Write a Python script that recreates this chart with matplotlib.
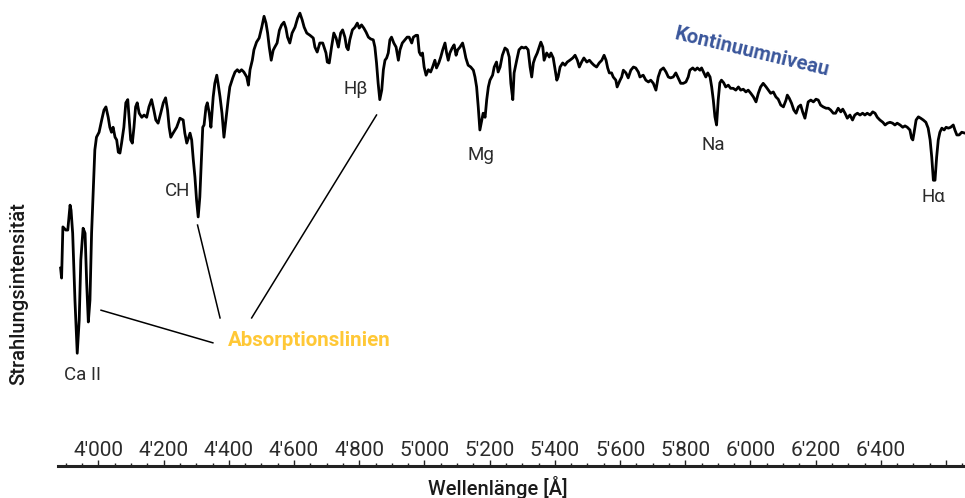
import matplotlib
matplotlib.use("Agg")
import matplotlib.pyplot as plt
from matplotlib.ticker import MultipleLocator, FixedLocator

plt.rcParams['font.family'] = ['Roboto', 'DejaVu Sans']

# Wavelength [Å] and relative radiation intensity
wavelength = [
    3884, 3887, 3891, 3900, 3906, 3913, 3916, 3921, 3928, 3935, 3941, 3946, 3953, 3959, 3964, 3969,
    3974, 3979, 3984, 3989, 3994, 4002, 4010, 4017, 4023, 4030, 4035, 4040, 4045, 4051, 4056, 4061,
    4066, 4071, 4078, 4084, 4090, 4094, 4099, 4104, 4109, 4114, 4119, 4125, 4133, 4140, 4148, 4155,
    4163, 4170, 4176, 4183, 4191, 4199, 4206, 4212, 4217, 4222, 4229, 4240, 4250, 4260, 4265, 4271,
    4281, 4286, 4291, 4296, 4301, 4306, 4311, 4317, 4320, 4324, 4330, 4334, 4340, 4345, 4352, 4357,
    4363, 4367, 4373, 4379, 4385, 4391, 4398, 4403, 4412, 4419, 4426, 4432, 4439, 4446, 4455, 4460,
    4465, 4472, 4477, 4485, 4493, 4501, 4508, 4514, 4519, 4524, 4530, 4536, 4541, 4548, 4555, 4562,
    4569, 4575, 4580, 4587, 4594, 4603, 4611, 4618, 4625, 4631, 4639, 4649, 4659, 4664, 4671, 4679,
    4688, 4698, 4702, 4708, 4715, 4722, 4729, 4736, 4743, 4749, 4756, 4761, 4766, 4771, 4779, 4787,
    4794, 4800, 4807, 4814, 4821, 4828, 4835, 4843, 4848, 4853, 4858, 4863, 4869, 4874, 4879, 4884,
    4889, 4894, 4899, 4906, 4913, 4920, 4925, 4932, 4940, 4947, 4953, 4961, 4966, 4974, 4979, 4984,
    4989, 4994, 4999, 5005, 5012, 5019, 5025, 5032, 5037, 5044, 5050, 5056, 5063, 5068, 5073, 5078,
    5085, 5091, 5097, 5102, 5109, 5117, 5122, 5127, 5134, 5142, 5150, 5155, 5160, 5165, 5170, 5176,
    5180, 5186, 5191, 5196, 5201, 5209, 5214, 5221, 5226, 5232, 5239, 5247, 5254, 5260, 5265, 5271,
    5275, 5283, 5290, 5298, 5305, 5311, 5318, 5324, 5329, 5334, 5339, 5346, 5352, 5357, 5363, 5367,
    5375, 5383, 5388, 5395, 5400, 5406, 5410, 5416, 5424, 5431, 5438, 5446, 5455, 5462, 5469, 5475,
    5482, 5489, 5498, 5506, 5513, 5520, 5528, 5536, 5544, 5551, 5557, 5562, 5567, 5574, 5579, 5587,
    5591, 5600, 5605, 5610, 5618, 5625, 5633, 5641, 5648, 5656, 5661, 5671, 5679, 5687, 5694, 5702,
    5710, 5717, 5724, 5733, 5741, 5748, 5755, 5763, 5771, 5778, 5786, 5794, 5802, 5809, 5814, 5823,
    5830, 5837, 5845, 5850, 5857, 5863, 5869, 5876, 5881, 5886, 5891, 5896, 5901, 5906, 5911, 5918,
    5924, 5932, 5939, 5947, 5955, 5963, 5970, 5978, 5986, 5993, 6001, 6009, 6017, 6024, 6031, 6039,
    6048, 6055, 6062, 6070, 6078, 6085, 6093, 6101, 6109, 6113, 6119, 6126, 6133, 6140, 6147, 6154,
    6160, 6167, 6172, 6177, 6185, 6193, 6201, 6208, 6215, 6223, 6232, 6239, 6246, 6254, 6261, 6269,
    6277, 6283, 6290, 6297, 6305, 6313, 6320, 6328, 6336, 6344, 6351, 6358, 6367, 6375, 6382, 6389,
    6397, 6406, 6413, 6420, 6428, 6436, 6443, 6450, 6459, 6467, 6474, 6481, 6489, 6494, 6498, 6502,
    6508, 6515, 6522, 6530, 6538, 6545, 6551, 6556, 6561, 6566, 6571, 6576, 6581, 6587, 6594, 6600,
    6607, 6614, 6622, 6627, 6633, 6640, 6648, 6658,
]
intensity = [
    43.7, 41.5, 52.8, 52.1, 52.1, 57.6, 56.5, 51.4, 36.6, 24.9, 32.2, 45.5, 52.5, 51.4, 40.4, 31.8,
    36.6, 51.4, 60.3, 69.8, 72.6, 73.7, 76.4, 78.6, 79.3, 77.0, 74.8, 73.7, 74.8, 72.6, 72.0, 69.3,
    69.1, 71.3, 74.8, 80.2, 80.9, 77.0, 72.0, 71.3, 74.8, 79.3, 80.2, 77.9, 77.0, 77.5, 77.0, 79.3,
    80.9, 78.6, 76.4, 75.7, 77.9, 80.2, 81.3, 78.6, 74.8, 72.6, 73.5, 74.8, 76.8, 76.4, 73.5, 71.3,
    73.5, 72.0, 67.6, 63.8, 58.7, 55.0, 59.4, 69.8, 74.8, 75.3, 79.3, 80.2, 77.9, 74.8, 81.5, 84.5,
    86.3, 84.5, 81.5, 77.9, 72.6, 76.4, 80.9, 83.7, 85.7, 87.0, 87.5, 87.0, 87.5, 87.0, 85.9, 84.1,
    87.5, 89.6, 91.9, 93.6, 94.5, 96.9, 99.3, 97.8, 95.6, 92.5, 89.6, 91.8, 92.5, 93.4, 96.2, 97.4,
    98.0, 96.7, 94.7, 93.4, 95.6, 96.9, 98.9, 100.0, 98.5, 96.9, 95.6, 95.1, 94.5, 92.5, 91.4, 93.4,
    93.4, 91.2, 89.2, 89.0, 92.5, 95.6, 94.5, 92.5, 95.6, 96.3, 94.7, 92.5, 91.9, 94.1, 96.3, 96.9,
    97.8, 96.7, 97.4, 96.7, 95.8, 94.7, 94.3, 94.1, 92.5, 89.0, 84.5, 80.9, 83.0, 87.5, 89.6, 90.1,
    91.2, 94.1, 94.7, 93.4, 92.5, 89.6, 91.9, 93.4, 94.1, 94.7, 94.7, 93.4, 94.7, 95.1, 95.1, 91.4,
    90.7, 91.2, 88.1, 86.3, 87.5, 87.0, 88.1, 89.6, 87.9, 89.0, 90.3, 91.9, 93.4, 91.2, 89.6, 91.2,
    92.3, 93.0, 90.7, 91.9, 92.5, 93.4, 91.9, 90.1, 88.5, 88.1, 87.4, 85.9, 83.7, 79.3, 74.2, 76.4,
    77.9, 77.0, 80.9, 83.7, 85.2, 86.3, 88.1, 89.2, 87.0, 88.1, 90.7, 92.3, 91.9, 90.3, 84.5, 80.9,
    86.8, 89.6, 91.9, 92.5, 92.3, 92.5, 91.9, 88.1, 85.9, 89.0, 90.1, 91.2, 92.5, 93.6, 92.5, 89.6,
    91.2, 90.3, 91.2, 90.1, 87.9, 85.2, 85.9, 88.1, 89.0, 88.5, 89.2, 89.6, 90.1, 90.7, 89.6, 88.1,
    89.2, 90.1, 89.2, 89.6, 89.0, 88.5, 88.1, 89.0, 89.6, 90.7, 89.6, 87.9, 86.8, 86.8, 85.9, 85.2,
    83.7, 85.2, 85.9, 87.4, 86.8, 85.7, 87.4, 88.1, 87.9, 87.0, 85.9, 86.3, 85.2, 84.8, 85.2, 84.5,
    83.0, 85.9, 87.4, 87.9, 87.0, 85.9, 85.7, 85.9, 86.8, 85.7, 84.5, 84.5, 84.8, 85.9, 87.4, 87.9,
    87.4, 87.9, 87.4, 87.9, 86.8, 85.9, 86.8, 85.9, 83.7, 80.8, 77.1, 75.3, 80.8, 84.6, 85.2, 84.6,
    83.7, 84.1, 83.4, 83.4, 83.0, 83.7, 83.0, 83.2, 82.6, 83.0, 82.3, 81.5, 80.4, 82.3, 83.7, 84.5,
    83.7, 83.0, 82.3, 82.6, 81.5, 81.0, 79.7, 79.3, 80.8, 81.9, 81.2, 80.1, 78.6, 77.9, 79.3, 79.7,
    78.2, 76.8, 78.6, 80.4, 80.8, 80.4, 81.0, 80.8, 79.7, 79.3, 79.0, 79.0, 78.6, 77.9, 77.9, 79.0,
    78.2, 78.8, 77.9, 76.8, 77.5, 76.4, 77.5, 77.9, 77.5, 77.9, 77.5, 77.9, 77.5, 78.2, 77.9, 77.0,
    76.4, 75.9, 75.3, 75.7, 75.9, 75.7, 75.3, 75.7, 75.3, 74.8, 75.1, 74.8, 74.2, 72.4, 72.0, 73.7,
    76.4, 77.1, 76.8, 76.4, 75.9, 74.6, 72.0, 68.2, 63.1, 63.1, 68.2, 72.0, 73.7, 74.6, 74.2, 74.8,
    74.6, 74.8, 75.3, 74.2, 73.1, 73.1, 73.7, 73.5,
]

# Line labels: text, wavelength, intensity
line_labels = ["Ca II", "CH", "H\u03b2", "Mg", "Na", "H\u03b1"]
line_label_wl = [3952, 4242, 4790, 5172, 5886, 6560]
line_label_int = [20.1, 60.7, 83.2, 68.7, 70.9, 59.4]

# Leader lines to the "Absorptionslinien" label
leader_start_wl = [4008, 4304, 4853]
leader_start_int = [34.4, 53.2, 77.5]
leader_end_wl = [4351, 4373, 4470]
leader_end_int = [27.2, 32.7, 32.7]

major_ticks = [4000, 4200, 4400, 4600, 4800, 5000, 5200, 5400, 5600, 5800, 6000, 6200, 6400, 6600]
tick_labels = ["4'000", "4'200", "4'400", "4'600", "4'800", "5'000", "5'200", "5'400",
               "5'600", "5'800", "6'000", "6'200", "6'400", ""]

W, H = 965, 498
fig = plt.figure(figsize=(W / 100, H / 100), dpi=100)
ax = fig.add_axes([58 / W, 32 / H, 1 - 58 / W, 1 - 32 / H])
ax.set_xlim(3876, 6658)
ax.set_ylim(0, 102.9)

ax.plot(wavelength, intensity, color="black", lw=2.0, solid_joinstyle="round")

for sw, si, ew, ei in zip(leader_start_wl, leader_start_int, leader_end_wl, leader_end_int):
    ax.plot([sw, ew], [si, ei], color="black", lw=1.1)

label_color = "#2b2b2b"
for t, w, i in zip(line_labels, line_label_wl, line_label_int):
    ax.text(w, i, t, ha="center", va="center", fontsize=13.5, color=label_color)

ax.text(4646, 27.8, "Absorptionslinien", ha="center", va="center", fontsize=14.8,
        fontweight="bold", color="#FFC836")
ax.text(6004, 91.4, "Kontinuumniveau", ha="center", va="center", fontsize=14.5,
        fontweight="bold", color="#3A569B", rotation=-13.5, rotation_mode="anchor")

for s in ["top", "right", "left"]:
    ax.spines[s].set_visible(False)
ax.spines["bottom"].set_linewidth(2.2)
ax.spines["bottom"].set_color("#222222")
ax.set_yticks([])

ax.xaxis.set_major_locator(FixedLocator(major_ticks))
ax.set_xticklabels(tick_labels)
ax.xaxis.set_minor_locator(MultipleLocator(50))
ax.tick_params(axis="x", which="major", direction="in", length=4, width=1.0,
               color="#222222", pad=-18, labelsize=15, labelcolor="#2b2b2b")
ax.tick_params(axis="x", which="minor", direction="in", length=2, width=1.0, color="#222222")

ax.set_xlabel("Wellenlänge [Å]", fontsize=14.5, color="#1a1a1a", fontweight="medium")
ax.xaxis.set_label_coords(0.485, -0.022)
ax.set_ylabel("Strahlungsintensität", fontsize=14.5, color="#1a1a1a", fontweight="medium")
ax.yaxis.set_label_coords(-0.033, 0.369)

fig.savefig("out.png", dpi=100)
